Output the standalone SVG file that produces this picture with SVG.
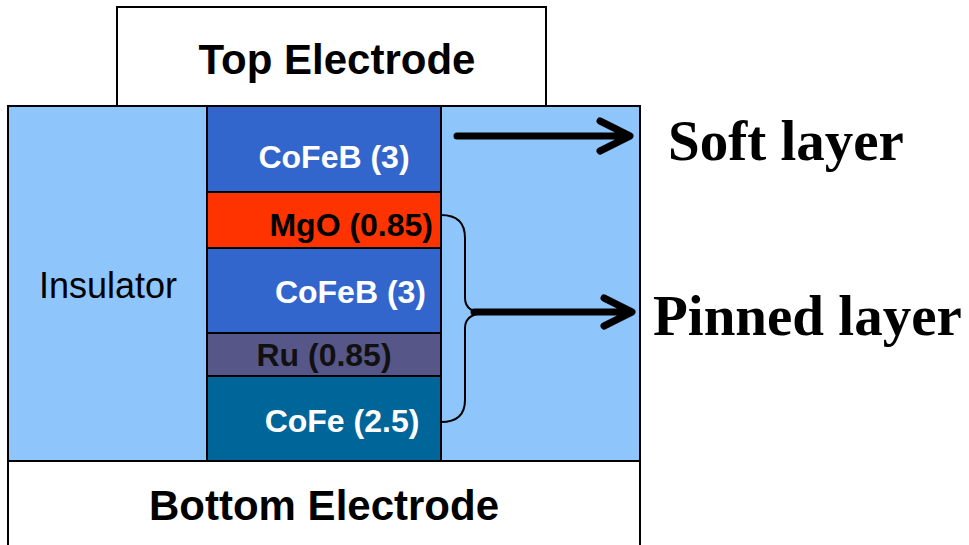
<svg xmlns="http://www.w3.org/2000/svg" width="969" height="545" viewBox="0 0 969 545">
<style>
.box{stroke:#000;stroke-width:2}
.lbl{font-family:"Liberation Sans",Arial,sans-serif;font-weight:bold}
.side{font-family:"Liberation Serif","Times New Roman",serif;font-weight:bold;font-size:57px;fill:#000}
.arrow{fill:none;stroke:#000;stroke-width:7;stroke-linecap:round;stroke-linejoin:round}
</style>
<rect width="969" height="545" fill="#fff"/>
<g id="insulator">
<rect class="box" x="8" y="106" width="632" height="355" fill="#8EC5FB"/>
<text x="108" y="298" text-anchor="middle" font-family="Liberation Sans, Arial, sans-serif" font-size="36" fill="#000">Insulator</text>
</g>
<g id="top-electrode">
<rect class="box" x="117" y="7" width="429" height="99" fill="#fff"/>
<text class="lbl" x="337" y="74" text-anchor="middle" font-size="42" fill="#000">Top Electrode</text>
</g>
<g id="bottom-electrode">
<rect class="box" x="8" y="461" width="632" height="100" fill="#fff"/>
<text class="lbl" x="324" y="520" text-anchor="middle" font-size="42" fill="#000">Bottom Electrode</text>
</g>
<g id="cofeb-free">
<rect class="box" x="207" y="106" width="234" height="86" fill="#3366CC"/>
<text class="lbl" x="334" y="168" text-anchor="middle" font-size="32" fill="#fff">CoFeB (3)</text>
</g>
<g id="mgo">
<rect class="box" x="207" y="192" width="234" height="56" fill="#FF3300"/>
<text class="lbl" x="433" y="236" text-anchor="end" font-size="32" fill="#000">MgO (0.85)</text>
</g>
<g id="cofeb-ref">
<rect class="box" x="207" y="248" width="234" height="85" fill="#3366CC"/>
<text class="lbl" x="426" y="303" text-anchor="end" font-size="32" fill="#fff">CoFeB (3)</text>
</g>
<g id="ru">
<rect class="box" x="207" y="333" width="234" height="43" fill="#575689"/>
<text class="lbl" x="324" y="366" text-anchor="middle" font-size="32" fill="#111">Ru (0.85)</text>
</g>
<g id="cofe">
<rect class="box" x="207" y="376" width="234" height="85" fill="#006699"/>
<text class="lbl" x="342" y="432" text-anchor="middle" font-size="32" fill="#fff">CoFe (2.5)</text>
</g>
<g id="connectors">
<path class="arrow" d="M457 136 H628 M600 121 L630 136 L600 151"/>
<path class="arrow" d="M474 312 H630 M604 298 L632 312 L604 326"/>
<path d="M441 215 Q465 215 465 238 V298 Q465 313 487 313 Q465 313 465 328 V400 Q465 422 441 422" fill="none" stroke="#000" stroke-width="2"/>
</g>
<g id="soft-label"><text class="side" x="668" y="160">Soft layer</text></g>
<g id="pinned-label"><text class="side" x="653" y="335">Pinned layer</text></g>
</svg>
